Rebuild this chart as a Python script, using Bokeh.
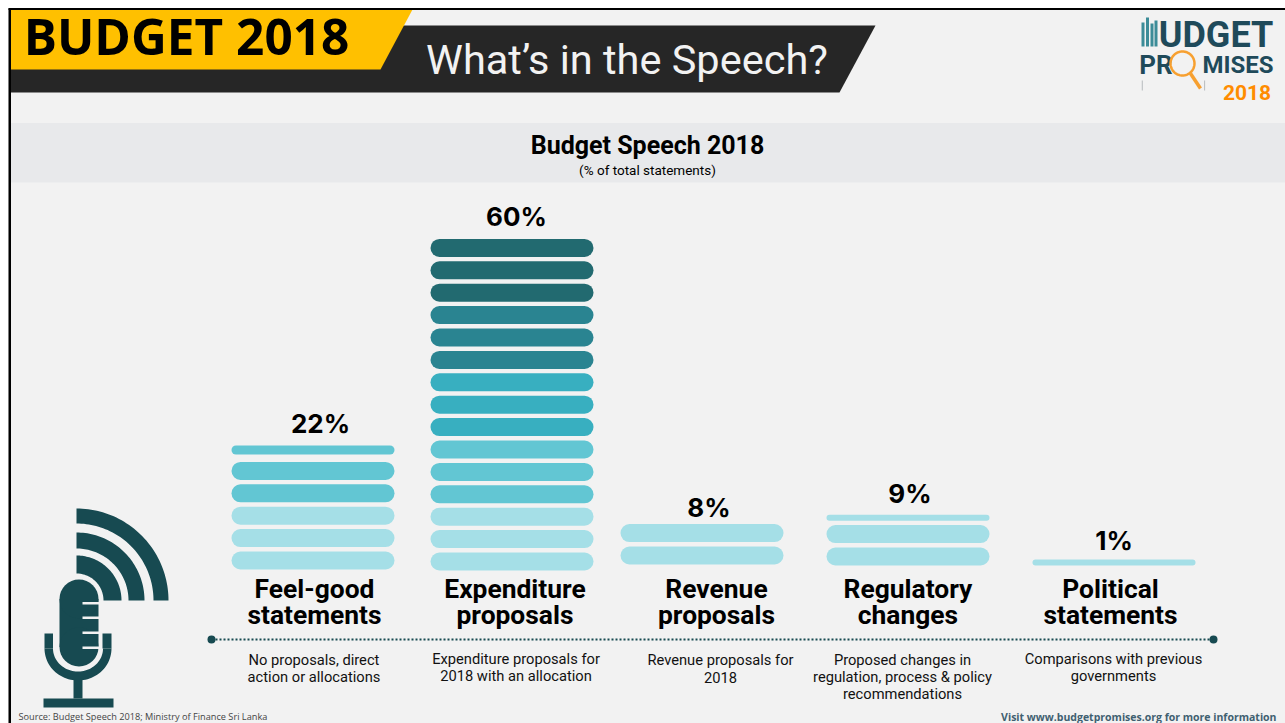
import numpy as np
from bokeh.plotting import figure
from bokeh.embed import file_html
from bokeh.resources import INLINE
from bokeh.models import Range1d
from bokeh.core.properties import value

# ---- data ----
categories = ["Feel-good\nstatements", "Expenditure\nproposals", "Revenue\nproposals", "Regulatory\nchanges", "Political\nstatements"]
shares = [22, 60, 8, 9, 1]
share_labels = ["22%", "60%", "8%", "9%", "1%"]
descriptions = ["No proposals, direct\naction or allocations",
                "Expenditure proposals for\n2018 with an allocation",
                "Revenue proposals for\n2018",
                "Proposed changes in\nregulation, process & policy\nrecommendations",
                "Comparisons with previous\ngovernments"]
unit_percent = 4

# ---- layout (page pixels) ----
W, H = 1285, 723
bar_cx = [312.5, 511.5, 701.5, 907.5, 1113.5]
bar_w = 163
base_px = [569, 570, 564, 565, 565]
partial_lift_px = [3, 0, 0, 0, 0]
label_cx = [314, 514.5, 716, 907.5, 1110]
pct_label_cx = [320, 516, 708.5, 909.5, 1113.5]
pct_label_y = [423, 216, 507, 493, 540]
desc_cx = [313.5, 515.5, 720, 902, 1113]
desc_y = [659.5, 658, 659.5, 659, 658]
px_per_pct = 5.6
pill_px = 18
shades = ["#A5DFE7", "#62C6D3", "#38AFC0", "#2A8491", "#226A70"]
DARK = "#174A51"
BG = "#F2F2F2"
LABEL_FONT = "Roboto"

p = figure(width=W, height=H, output_backend="svg", toolbar_location=None,
           x_range=Range1d(0, W), y_range=Range1d(H, 0),
           min_border=0, outline_line_color=None, background_fill_color="#FFFFFF",
           border_fill_color="#FFFFFF")
p.axis.visible = False
p.grid.visible = False
p.extra_y_ranges = {"pct": Range1d((570 - H) / px_per_pct, 570 / px_per_pct)}


def txt(x, y, s, size, color="#000000", font="Roboto", style="normal", align="center", baseline="middle"):
    p.text([x], [y], text=[s], text_font=value(font), text_font_size=f"{size}px", text_font_style=style,
           text_color=color, text_align=align, text_baseline=baseline)


# frame and header
p.quad(left=[8], right=[W], top=[8], bottom=[H], fill_color=BG, line_color=None)
p.quad(left=[9], right=[W], top=[122.5], bottom=[182], fill_color="#E8E9EB", line_color=None)
p.patch([9, 405, 875, 839, 9], [25, 25, 25, 92, 92], fill_color="#262626", line_color=None)
p.patch([9, 412, 380, 9], [9, 9, 69, 69], fill_color="#FFC000", line_color=None)
p.quad(left=[8], right=[W], top=[7.5], bottom=[9.5], fill_color="#000000", line_color=None)
p.quad(left=[8], right=[10.5], top=[8], bottom=[H], fill_color="#000000", line_color=None)
txt(186, 35, "BUDGET 2018", 49.5, font="Open Sans", style="bold")
txt(626.5, 59, "What\u2019s in the Speech?", 41.5, color=BG, font="Roboto")
txt(647, 145, "Budget Speech 2018", 25, font="Roboto", style="bold")
txt(647, 169, "(% of total statements)", 13.5, font="Roboto")

# logo
logo = "#1F4A5A"
p.quad(left=[1141, 1145.5, 1150, 1154], right=[1144, 1148.5, 1153, 1157],
       top=[22, 17, 23, 20], bottom=[46, 46, 46, 46], fill_color="#3C8C98", line_color=None)
p.quad(left=[1141.3, 1203.7], right=[1142.2, 1204.6], top=[80, 80], bottom=[90, 90],
       fill_color="#B0B5B8", line_color=None)
txt(1215.5, 34, "UDGET", 36, color=logo, font="Roboto", style="bold")
txt(1155.5, 64.5, "PR", 26, color=logo, font="Roboto", style="bold")
txt(1237.5, 64.5, "MISES", 24, color=logo, font="Roboto", style="bold")
txt(1246.5, 92, "2018", 21, color="#FF8C00", font="Roboto", style="bold")
th = np.linspace(0, 2 * np.pi, 60)
p.line(1182 + 12 * np.cos(th), 63 + 12 * np.sin(th), line_color="#F7A030", line_width=2.5)
p.line([1190, 1200], [73, 88], line_color="#F7A030", line_width=3.5)

# microphone
cx, cy = 76, 600
for r1, r0 in [(92, 77), (68, 52), (45, 27)]:
    a = np.linspace(0, np.pi / 2, 50)
    p.patch(np.r_[cx + r1 * np.cos(a), cx + r0 * np.cos(a[::-1])],
            np.r_[cy - r1 * np.sin(a), cy - r0 * np.sin(a[::-1])], fill_color=DARK, line_color=None)
p.quad(left=[59], right=[98], top=[579 + 19.5], bottom=[666 - 19.5], fill_color=DARK, line_color=None)
p.ellipse([78.5, 78.5], [598.5, 646.5], width=39, height=39, fill_color=DARK, line_color=None)
p.quad(left=[82] * 4, right=[98.5] * 4, top=[601.5, 616, 631, 646], bottom=[604, 618.5, 633.5, 648.5],
       fill_color=BG, line_color=None)
a = np.linspace(0, np.pi, 50)
p.patch(np.r_[77.5 + 33.5 * np.cos(a), 77.5 + 25 * np.cos(a[::-1])],
        np.r_[648 + 32 * np.sin(a), 648 + 23 * np.sin(a[::-1])], fill_color=DARK, line_color=None)
p.quad(left=[44, 102], right=[52.5, 111], top=[633, 633], bottom=[648, 648], fill_color=DARK, line_color=None)
p.quad(left=[73, 43], right=[82, 113], top=[679, 698], bottom=[698, 707], fill_color=DARK, line_color=None)

# pictogram bars
L, R, T, B, C = [], [], [], [], []
for share, c, base, lift in zip(shares, bar_cx, base_px, partial_lift_px):
    shift = (570 - base) / px_per_pct
    n = int(np.ceil(share / unit_percent))
    for i in range(n):
        frac = min(1.0, share / unit_percent - i)
        bottom = i * unit_percent + shift
        height_px = pill_px
        if frac < 1:
            height_px = max(6, frac * pill_px)
            bottom += lift / px_per_pct
        L.append(c - bar_w / 2)
        R.append(c + bar_w / 2)
        B.append(bottom)
        T.append(bottom + height_px / px_per_pct)
        C.append(shades[i // 3])
p.quad(left=L, right=R, top=T, bottom=B, fill_color=C, line_color=None, y_range_name="pct", border_radius=9)

# value labels
for s, x, y in zip(share_labels, pct_label_cx, pct_label_y):
    txt(x, y, s, 26, font="Inter", style="bold")

# category labels
for s, x in zip(categories, label_cx):
    a, b = s.split("\n")
    txt(x, 588.5, a, 26.4, font=LABEL_FONT, style="bold")
    txt(x, 614.5, b, 26.4, font=LABEL_FONT, style="bold")

# dotted rule
p.line([211, 1213], [639, 639], line_color=DARK, line_width=2, line_dash="2 2")
p.scatter([211, 1213], [639, 639], size=8, fill_color=DARK, line_color=None)

# descriptions
for s, x, y in zip(descriptions, desc_cx, desc_y):
    for j, line in enumerate(s.split("\n")):
        txt(x, y + j * 17.3, line, 14.7, font=LABEL_FONT, color="#111111")

txt(18, 716, "Source: Budget Speech 2018; Ministry of Finance Sri Lanka", 9.2, color="#444444", font="Open Sans", align="left")
txt(1276, 716, "Visit www.budgetpromises.org for more information", 10.5, color="#3F6070", font="Open Sans", style="bold", align="right")

open("out.html", "w").write(file_html(p, INLINE))
